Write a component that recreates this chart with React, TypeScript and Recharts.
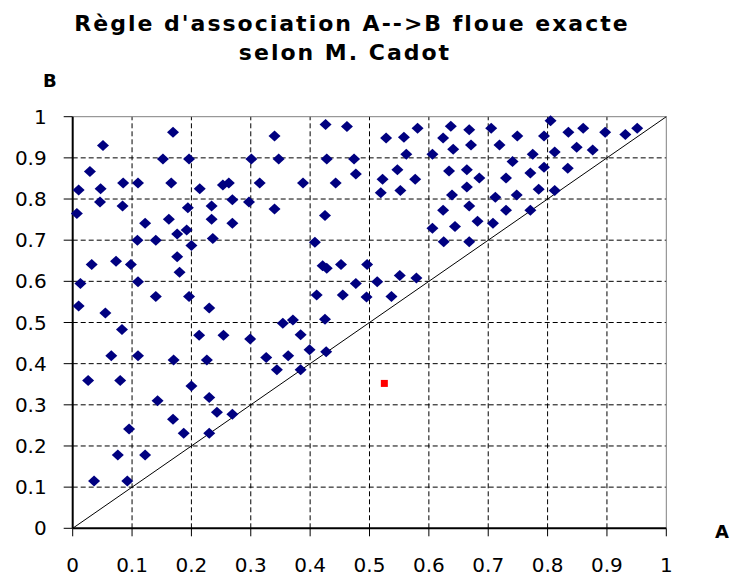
import React from "react";
import {
  ScatterChart,
  Scatter,
  XAxis,
  YAxis,
  ReferenceLine,
} from "recharts";

// [A, B] pairs, grouped loosely by region
const leftRules: [number, number][] = [
  [0.169, 0.962], [0.051, 0.93], [0.152, 0.897], [0.196, 0.897], [0.301, 0.897],
  [0.029, 0.867], [0.01, 0.822], [0.047, 0.825], [0.085, 0.839], [0.11, 0.839],
  [0.166, 0.839], [0.214, 0.825], [0.253, 0.834], [0.263, 0.839], [0.315, 0.839],
  [0.046, 0.793], [0.084, 0.783], [0.194, 0.779], [0.234, 0.783], [0.269, 0.798],
  [0.297, 0.793], [0.007, 0.765], [0.122, 0.741], [0.162, 0.751], [0.234, 0.751],
  [0.269, 0.741], [0.176, 0.715], [0.192, 0.725], [0.109, 0.7], [0.14, 0.7],
  [0.2, 0.687], [0.236, 0.704], [0.032, 0.641], [0.073, 0.649], [0.098, 0.641],
  [0.176, 0.66], [0.18, 0.622], [0.013, 0.595], [0.11, 0.599], [0.14, 0.563],
  [0.196, 0.563], [0.01, 0.54], [0.055, 0.523], [0.23, 0.535], [0.083, 0.483],
  [0.213, 0.469], [0.254, 0.469], [0.299, 0.46], [0.065, 0.419], [0.11, 0.419],
  [0.17, 0.409], [0.226, 0.409], [0.026, 0.359], [0.08, 0.359], [0.2, 0.346],
  [0.23, 0.318], [0.143, 0.31], [0.243, 0.282], [0.269, 0.277], [0.169, 0.265],
  [0.095, 0.241], [0.187, 0.231], [0.23, 0.231], [0.076, 0.178], [0.122, 0.178],
  [0.036, 0.115], [0.092, 0.115],
];

const middleRules: [number, number][] = [
  [0.326, 0.415], [0.344, 0.385], [0.354, 0.498], [0.371, 0.506], [0.384, 0.47],
  [0.363, 0.419], [0.399, 0.434], [0.384, 0.385], [0.427, 0.429], [0.426, 0.981],
  [0.462, 0.976], [0.34, 0.953], [0.528, 0.948], [0.558, 0.95], [0.581, 0.972],
  [0.347, 0.897], [0.428, 0.897], [0.474, 0.897], [0.562, 0.909], [0.606, 0.909],
  [0.477, 0.861], [0.547, 0.871], [0.388, 0.839], [0.443, 0.839], [0.522, 0.848],
  [0.577, 0.848], [0.519, 0.815], [0.552, 0.821], [0.34, 0.776], [0.425, 0.76],
  [0.606, 0.729], [0.408, 0.695], [0.421, 0.638], [0.428, 0.632], [0.452, 0.641],
  [0.496, 0.641], [0.551, 0.614], [0.579, 0.608], [0.477, 0.595], [0.513, 0.599],
  [0.411, 0.567], [0.455, 0.567], [0.495, 0.562], [0.537, 0.563], [0.425, 0.508],
];

const rightRules: [number, number][] = [
  [0.805, 0.99], [0.637, 0.977], [0.668, 0.968], [0.705, 0.972], [0.749, 0.953],
  [0.794, 0.953], [0.835, 0.962], [0.86, 0.972], [0.897, 0.962], [0.931, 0.957],
  [0.951, 0.972], [0.624, 0.948], [0.641, 0.921], [0.671, 0.931], [0.719, 0.931],
  [0.849, 0.926], [0.876, 0.919], [0.775, 0.909], [0.812, 0.914], [0.741, 0.891],
  [0.634, 0.868], [0.664, 0.871], [0.685, 0.851], [0.73, 0.851], [0.771, 0.863],
  [0.794, 0.877], [0.834, 0.875], [0.664, 0.829], [0.639, 0.81], [0.712, 0.804],
  [0.748, 0.81], [0.785, 0.824], [0.812, 0.821], [0.624, 0.773], [0.668, 0.783],
  [0.73, 0.773], [0.771, 0.773], [0.644, 0.733], [0.682, 0.746], [0.708, 0.741],
  [0.625, 0.696], [0.668, 0.696],
];

// the single highlighted (red) rule
const highlighted: [number, number][] = [[0.525, 0.352]];

const axisTicks = [0, 0.1, 0.2, 0.3, 0.4, 0.5, 0.6, 0.7, 0.8, 0.9, 1];

const toPoints = (pairs: [number, number][]) => pairs.map(([a, b]) => ({ a, b }));

const Diamond = (props: any) => {
  const { cx, cy } = props;
  if (cx == null || cy == null) return null;
  return (
    <path
      d={`M${cx},${cy - 5.5} L${cx + 6},${cy} L${cx},${cy + 5.5} L${cx - 6},${cy} Z`}
      fill="#000080"
    />
  );
};

const RedSquare = (props: any) => {
  const { cx, cy } = props;
  if (cx == null || cy == null) return null;
  return <rect x={cx - 3.5} y={cy - 3.5} width={7} height={7} fill="#ff0000" />;
};

const font = "'DejaVu Sans', Verdana, sans-serif";
const tickStyle = { fontSize: 20, fill: "#000", fontFamily: font };

export default function App() {
  const allRules = toPoints([...leftRules, ...middleRules, ...rightRules]);
  const grid = axisTicks.slice(1, -1);

  return (
    <div
      style={{
        position: "absolute",
        left: 0,
        top: 0,
        width: 731,
        height: 576,
        background: "#fff",
        fontFamily: font,
        overflow: "hidden",
      }}
    >
      <ScatterChart
        width={731}
        height={576}
        margin={{ top: 116.7, right: 64.7, bottom: 7.7, left: 2.7 }}
      >
        <XAxis
          type="number"
          dataKey="a"
          domain={[0, 1]}
          ticks={axisTicks}
          interval={0}
          height={40}
          tickSize={8}
          tickMargin={21}
          tick={tickStyle}
          tickFormatter={(v) => String(v)}
          axisLine={{ stroke: "#000", strokeWidth: 2 }}
          tickLine={{ stroke: "#000" }}
        />
        <YAxis
          type="number"
          dataKey="b"
          domain={[0, 1]}
          ticks={axisTicks}
          interval={0}
          width={70}
          tickSize={9}
          tickMargin={17}
          tick={tickStyle}
          tickFormatter={(v) => String(v)}
          axisLine={{ stroke: "#000", strokeWidth: 2 }}
          tickLine={{ stroke: "#000" }}
        />
        {grid.map((v) => (
          <ReferenceLine key={`gx${v}`} x={v} stroke="#000" strokeDasharray="5 3" />
        ))}
        {grid.map((v) => (
          <ReferenceLine key={`gy${v}`} y={v} stroke="#000" strokeDasharray="5 3" />
        ))}
        <ReferenceLine y={1} stroke="#808080" />
        <ReferenceLine x={1} stroke="#808080" />
        <ReferenceLine
          segment={[
            { x: 0, y: 0 },
            { x: 1, y: 1 },
          ]}
          stroke="#000"
          strokeWidth={1}
        />
        <Scatter data={allRules} shape={Diamond} isAnimationActive={false} />
        <Scatter data={toPoints(highlighted)} shape={RedSquare} isAnimationActive={false} />
      </ScatterChart>

      {/* title, two lines */}
      <div
        style={{
          position: "absolute",
          left: 0,
          top: 9,
          width: 704,
          textAlign: "center",
          fontSize: 22,
          lineHeight: "29px",
          fontWeight: "bold",
          letterSpacing: 2,
          whiteSpace: "nowrap",
        }}
      >
        Règle d'association A--&gt;B floue exacte
      </div>
      <div
        style={{
          position: "absolute",
          left: 0,
          top: 38,
          width: 690,
          textAlign: "center",
          fontSize: 22,
          lineHeight: "29px",
          fontWeight: "bold",
          letterSpacing: 2,
          whiteSpace: "nowrap",
        }}
      >
        selon M. Cadot
      </div>
      <div
        style={{
          position: "absolute",
          left: 43,
          top: 70,
          fontSize: 18,
          fontWeight: "bold",
          lineHeight: "22px",
        }}
      >
        B
      </div>
      <div
        style={{
          position: "absolute",
          left: 715,
          top: 521,
          fontSize: 18,
          fontWeight: "bold",
          lineHeight: "22px",
        }}
      >
        A
      </div>
    </div>
  );
}
